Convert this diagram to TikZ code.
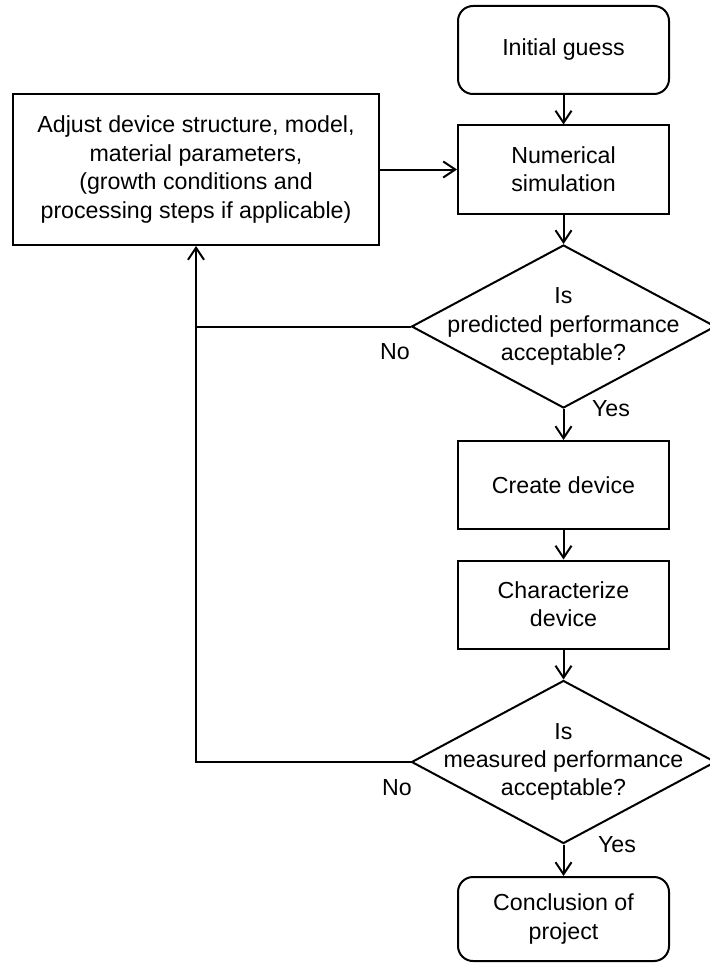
\documentclass[tikz,border=0pt]{standalone}
\usepackage{fontspec}
\setmainfont{Liberation Sans}
\usetikzlibrary{shapes.geometric, arrows.meta}
\tikzset{
	every picture/.style={/utils/exec={\fontsize{11.6pt}{14.2pt}\selectfont}},
	process/.style={draw, line width=1pt, align=center, minimum width=105.5pt, minimum height=44pt},
	terminal/.style={process, rounded corners=7.5pt},
	decision/.style={draw, line width=1pt, diamond, inner sep=0pt, minimum width=152pt, minimum height=81.5pt},
	flow/.style={line width=1pt, -{Straight Barb[length=6pt, width=8pt, line width=1pt]}}
}

\begin{document}
\begin{tikzpicture}[x=0.5pt, y=-0.5pt]
		\useasboundingbox (0,0) rectangle (709,963);

		\node[terminal] (init) at (563.5, 50) {Initial guess};
		\node[process] (numsim) at (563.5, 169.5) {Numerical\\simulation};
		\node[process, minimum width=183pt, minimum height=75.5pt] (adjust) at (196, 169.5)
			{Adjust device structure, model,\\material parameters,\\(growth conditions and\\processing steps if applicable)};
		\node[decision, label={[align=center]center:Is\\predicted performance\\acceptable?}] (pred) at (563.5, 326.5) {};
		\node[process] (create) at (563.5, 485) {Create device};
		\node[process] (charac) at (563.5, 604.5) {Characterize\\device};
		\node[decision, label={[align=center]center:Is\\measured performance\\acceptable?}] (meas) at (563.5, 762) {};
		\node[terminal, minimum height=42pt] (concl) at (563.5, 919) {Conclusion of\\project};

		\draw[flow] (init) -- (numsim);
		\draw[flow] (numsim) -- (pred);
		\draw[flow] (pred) -- (create);
		\draw[flow] (create) -- (charac);
		\draw[flow] (charac) -- (meas);
		\draw[flow] (meas) -- (concl);
		\draw[flow] (adjust) -- (numsim);

		% loops back to the adjust box
		\draw[line width=1pt] (pred.west) -- (pred.west -| adjust.south);
		\draw[flow] (meas.west) -| (adjust.south);

		\node (nopred) at (395, 352) {No};
		\node (yespred) at (611, 409) {Yes};
		\node (nomeas) at (397, 788) {No};
		\node (yesmeas) at (617, 845) {Yes};
	\end{tikzpicture}
\end{document}
